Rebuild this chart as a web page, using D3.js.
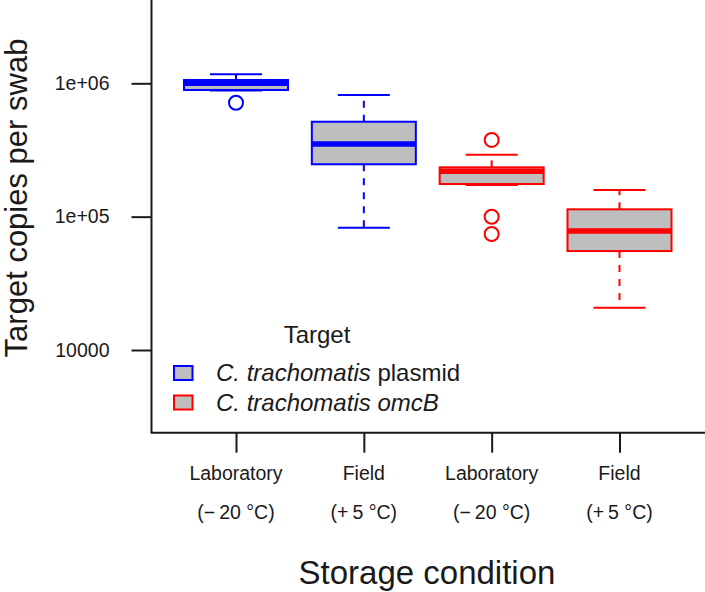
<!DOCTYPE html>
<html><head>
<meta charset="UTF-8">
<script src="https://cdn.jsdelivr.net/npm/d3@7"></script>
<style>
body{margin:0;background:#fff}
svg{display:block;font-family:"Liberation Sans",Arial,sans-serif}
</style>
</head><body>
<svg id="chart" width="705" height="592"></svg>
<script>
// storage groups, left to right
var categories = ["Laboratory", "Field", "Laboratory", "Field"];
var conditions = ["(\u2212\u200920 \u00b0C)", "(+\u20095 \u00b0C)", "(\u2212\u200920 \u00b0C)", "(+\u20095 \u00b0C)"];
var targets = ["plasmid", "plasmid", "omcB", "omcB"];

// box statistics, copies per swab
var whiskerLow  = [883000, 82600, 172800, 20700];
var q1          = [891000, 247000, 175700, 55200];
var median      = [1000000, 351000, 219300, 78000];
var q3          = [1059000, 515000, 234400, 113500];
var whiskerHigh = [1168000, 817000, 291400, 158500];
var outliers    = [[715000], [], [376000, 99800, 74100], []];

var yTicks = [10000, 100000, 1000000];
var yTickLabels = ["10000", "1e+05", "1e+06"];

var legendLabels = [["C. trachomatis", " plasmid", ""], ["C. trachomatis", " ", "omcB"]];
var legendColors = ["#0000ff", "#ff0000"];
var colorOf = {plasmid: "#0000ff", omcB: "#ff0000"};

var svg = d3.select("#chart");

var x = d3.scaleLinear().domain([1, 4]).range([236, 619.5]);
var y = d3.scaleLog().domain([10000, 1000000]).range([350, 83.3]);

var axisX = 151.5, axisY = 432.7;

// L-shaped frame
svg.append("path")
  .attr("d", "M" + axisX + ",0V" + axisY + "H705")
  .attr("fill", "none").attr("stroke", "#1a1a1a").attr("stroke-width", 2);

// y axis
var yAxis = d3.axisLeft(y).tickValues(yTicks)
  .tickFormat(function(d, i){ return yTickLabels[i]; })
  .tickSize(20).tickPadding(22);
var gy = svg.append("g").attr("transform", "translate(" + axisX + ",0)").call(yAxis);
gy.select(".domain").remove();
gy.selectAll(".tick line").attr("stroke", "#1a1a1a").attr("stroke-width", 2);
gy.selectAll(".tick text").attr("font-size", 19.5).attr("fill", "#1a1a1a")
  .attr("font-family", "Liberation Sans, Arial, sans-serif");

// x axis
var xAxis = d3.axisBottom(x).tickValues([1, 2, 3, 4]).tickFormat("").tickSize(20);
var gx = svg.append("g").attr("transform", "translate(0," + axisY + ")").call(xAxis);
gx.select(".domain").remove();
gx.selectAll(".tick line").attr("stroke", "#1a1a1a").attr("stroke-width", 2);

categories.forEach(function(c, i){
  svg.append("text").attr("x", x(i + 1)).attr("y", 480)
    .attr("text-anchor", "middle").attr("font-size", 19.5).attr("fill", "#1a1a1a").text(c);
  svg.append("text").attr("x", x(i + 1)).attr("y", 519)
    .attr("text-anchor", "middle").attr("font-size", 19.5).attr("fill", "#1a1a1a").text(conditions[i]);
});

// axis titles
svg.append("text").attr("x", 427).attr("y", 584).attr("text-anchor", "middle")
  .attr("font-size", 33).attr("fill", "#1a1a1a").text("Storage condition");
svg.append("text").attr("transform", "translate(27,198) rotate(-90)").attr("text-anchor", "middle")
  .attr("font-size", 31).attr("fill", "#1a1a1a").text("Target copies per swab");

// boxes
var boxW = 104, capW = 52;
var groups = svg.selectAll("g.box").data(d3.range(categories.length)).join("g").attr("class", "box");

groups.each(function(i){
  var g = d3.select(this), cx = x(i + 1), col = colorOf[targets[i]];
  // whiskers
  g.append("line").attr("x1", cx).attr("x2", cx).attr("y1", y(q3[i])).attr("y2", y(whiskerHigh[i]))
    .attr("stroke", col).attr("stroke-width", 2).attr("stroke-dasharray", "7,7");
  g.append("line").attr("x1", cx).attr("x2", cx).attr("y1", y(q1[i])).attr("y2", y(whiskerLow[i]))
    .attr("stroke", col).attr("stroke-width", 2).attr("stroke-dasharray", "7,7");
  g.append("line").attr("x1", cx - capW / 2).attr("x2", cx + capW / 2)
    .attr("y1", y(whiskerHigh[i])).attr("y2", y(whiskerHigh[i])).attr("stroke", col).attr("stroke-width", 2);
  g.append("line").attr("x1", cx - capW / 2).attr("x2", cx + capW / 2)
    .attr("y1", y(whiskerLow[i])).attr("y2", y(whiskerLow[i])).attr("stroke", col).attr("stroke-width", 2);
  // box
  g.append("rect").attr("x", cx - boxW / 2).attr("width", boxW)
    .attr("y", y(q3[i])).attr("height", y(q1[i]) - y(q3[i]))
    .attr("fill", "#bebebe").attr("stroke", col).attr("stroke-width", 2);
  // median
  g.append("line").attr("x1", cx - boxW / 2).attr("x2", cx + boxW / 2)
    .attr("y1", y(median[i])).attr("y2", y(median[i])).attr("stroke", col).attr("stroke-width", 5.5);
  // outliers
  g.selectAll("circle").data(outliers[i]).join("circle")
    .attr("cx", cx).attr("cy", function(d){ return y(d); }).attr("r", 7)
    .attr("fill", "none").attr("stroke", col).attr("stroke-width", 2);
});

// legend
svg.append("text").attr("x", 317).attr("y", 343).attr("text-anchor", "middle")
  .attr("font-size", 24).attr("fill", "#1a1a1a").text("Target");
legendLabels.forEach(function(l, i){
  var yy = 366 + i * 29.5;
  svg.append("rect").attr("x", 174).attr("y", yy).attr("width", 18.5).attr("height", 14)
    .attr("fill", "#bebebe").attr("stroke", legendColors[i]).attr("stroke-width", 2);
  var t = svg.append("text").attr("x", 216).attr("y", yy + 15).attr("font-size", 24).attr("fill", "#1a1a1a");
  t.append("tspan").attr("font-style", "italic").text(l[0]);
  t.append("tspan").text(l[1]);
  if (l[2]) t.append("tspan").attr("font-style", "italic").text(l[2]);
});
</script>
</body></html>
